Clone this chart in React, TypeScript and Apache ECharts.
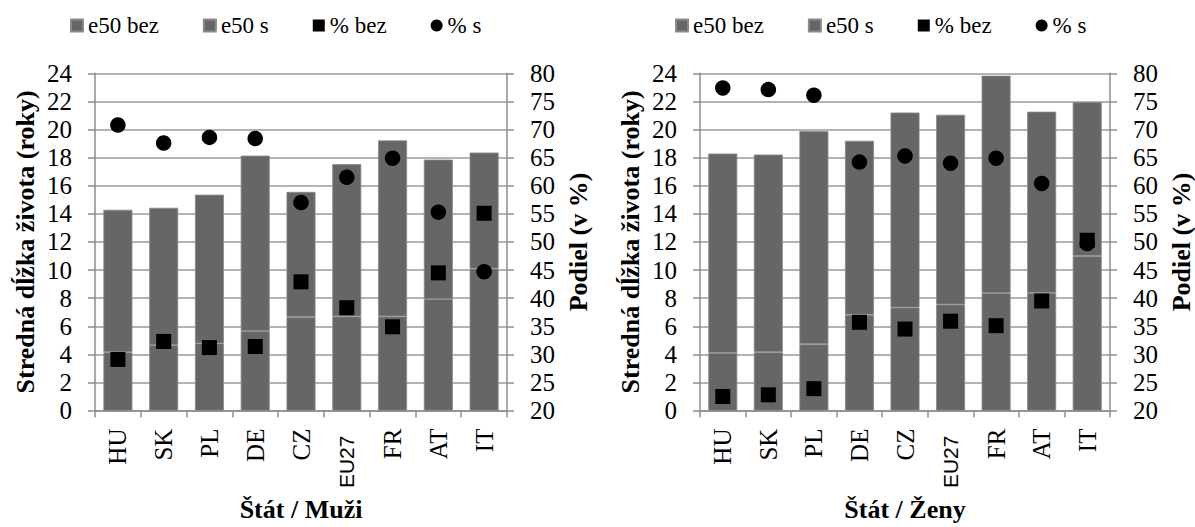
import React, { useEffect, useRef } from "react";
import * as echarts from "echarts";

const categories = ["HU", "SK", "PL", "DE", "CZ", "EU27", "FR", "AT", "IT"];
const leftTicks = [0, 24, 2];
const rightTicks = [20, 80, 5];

const menBez = [4.15, 4.65, 4.78, 5.65, 6.66, 6.7, 6.7, 7.93, 10.1];
const menS = [10.14, 9.78, 10.58, 12.49, 8.9, 10.83, 12.52, 9.93, 8.26];
const menPctBez = [29.1, 32.3, 31.2, 31.4, 42.9, 38.3, 34.9, 44.5, 55.1];
const menPctS = [70.8, 67.6, 68.6, 68.4, 57.0, 61.5, 64.9, 55.3, 44.7];

const womenBez = [4.1, 4.15, 4.72, 6.82, 7.33, 7.55, 8.36, 8.38, 11.0];
const womenS = [14.19, 14.07, 15.16, 12.38, 13.88, 13.5, 15.47, 12.89, 10.95];
const womenPctBez = [22.5, 22.8, 23.9, 35.7, 34.5, 35.9, 35.1, 39.5, 50.3];
const womenPctS = [77.4, 77.1, 76.1, 64.2, 65.3, 64.0, 64.9, 60.4, 49.7];

const panelTitles = ["Štát / Muži", "Štát / Ženy"];
const yTitle = "Stredná dĺžka života (roky)";
const y2Title = "Podiel (v %)";
const seriesNames = ["e50 bez", "e50 s", "% bez", "% s"];

const FONT = "Liberation Serif";
const SANS = "Liberation Sans";
const GRAY = "#666666";
const LINE = "#8c8c8c";

export default function App() {
  const ref = useRef<HTMLDivElement>(null);
  useEffect(() => {
    document.body.style.margin = "0";
    const chart = echarts.init(ref.current!, null, { renderer: "svg" });
    const panels = [
      { bez: menBez, s: menS, pb: menPctBez, ps: menPctS, left: 95 },
      { bez: womenBez, s: womenS, pb: womenPctBez, ps: womenPctS, left: 700 },
    ];
    const grid: any[] = [];
    const xAxis: any[] = [];
    const yAxis: any[] = [];
    const series: any[] = [];
    const legend: any[] = [];
    panels.forEach((p, i) => {
      grid.push({ left: p.left, top: 73.3, width: 412, height: 354.2 });
      legend.push({
        left: p.left - 30,
        top: 9,
        itemWidth: 12,
        itemHeight: 12,
        itemGap: 44,
        textStyle: { fontFamily: FONT, fontSize: 23, color: "#000" },
        data: [
          { name: "e50 bez", icon: "rect" },
          { name: "e50 s", icon: "rect" },
          { name: "% bez", icon: "rect" },
          { name: "% s", icon: "circle" },
        ],
      });
      xAxis.push({
        type: "category",
        gridIndex: i,
        data: categories,
        name: panelTitles[i],
        nameLocation: "middle",
        nameGap: 72,
        nameTextStyle: { fontFamily: FONT, fontSize: 26, fontWeight: "bold", color: "#000" },
        axisLine: { lineStyle: { color: LINE, width: 1.5 } },
        axisTick: { show: true, length: 7, lineStyle: { color: LINE, width: 1.5 } },
        axisLabel: {
          rotate: 90,
          margin: 18,
          fontFamily: FONT,
          fontSize: 25,
          color: "#000",
          interval: 0,
          formatter: (v: string) => (v === "EU27" ? "{eu|EU27}" : v),
          rich: {
            eu: { fontFamily: SANS, fontSize: 21, color: "#000", padding: [0, 7, 0, 0] },
          },
        },
      });
      yAxis.push({
        type: "value",
        gridIndex: i,
        min: leftTicks[0],
        max: leftTicks[1],
        interval: leftTicks[2],
        position: "left",
        name: yTitle,
        nameLocation: "middle",
        nameRotate: 90,
        nameGap: 57,
        nameTextStyle: { fontFamily: FONT, fontSize: 26, fontWeight: "bold", color: "#000" },
        axisLine: { show: true, lineStyle: { color: LINE, width: 1.5 } },
        axisTick: { show: true, length: 7, lineStyle: { color: LINE, width: 1.5 } },
        axisLabel: { margin: 23, fontFamily: FONT, fontSize: 25, color: "#000" },
        splitLine: { show: true, lineStyle: { color: "#9a9a9a", width: 1.5 } },
      });
      yAxis.push({
        type: "value",
        gridIndex: i,
        min: rightTicks[0],
        max: rightTicks[1],
        interval: rightTicks[2],
        position: "right",
        name: y2Title,
        nameLocation: "middle",
        nameRotate: 90,
        nameGap: 58,
        nameTextStyle: { fontFamily: FONT, fontSize: 26, fontWeight: "bold", color: "#000" },
        axisLine: { show: true, lineStyle: { color: LINE, width: 1.5 } },
        axisTick: { show: true, length: 7, lineStyle: { color: LINE, width: 1.5 } },
        axisLabel: { margin: 23, fontFamily: FONT, fontSize: 25, color: "#000" },
        splitLine: { show: false },
      });
      const stack = "st" + i;
      series.push({
        name: seriesNames[0],
        type: "bar",
        xAxisIndex: i,
        yAxisIndex: i * 2,
        stack,
        barWidth: 29,
        data: p.bez,
        itemStyle: { color: GRAY, borderColor: "#8a8a8a", borderWidth: 0.8 },
      });
      series.push({
        name: seriesNames[1],
        type: "bar",
        xAxisIndex: i,
        yAxisIndex: i * 2,
        stack,
        barWidth: 29,
        data: p.s,
        itemStyle: { color: GRAY, borderColor: "#8a8a8a", borderWidth: 0.8 },
      });
      series.push({
        name: seriesNames[2],
        type: "scatter",
        xAxisIndex: i,
        yAxisIndex: i * 2 + 1,
        symbol: "rect",
        symbolSize: 15,
        data: p.pb,
        itemStyle: { color: "#000", opacity: 1 },
        z: 3,
      });
      series.push({
        name: seriesNames[3],
        type: "scatter",
        xAxisIndex: i,
        yAxisIndex: i * 2 + 1,
        symbol: "circle",
        symbolSize: 15.5,
        data: p.ps,
        itemStyle: { color: "#000", opacity: 1 },
        z: 4,
      });
    });
    chart.setOption({
      animation: false,
      backgroundColor: "#fff",
      textStyle: { fontFamily: FONT },
      legend,
      grid,
      xAxis,
      yAxis,
      series,
    });
    return () => chart.dispose();
  }, []);
  return <div ref={ref} style={{ width: 1195, height: 527 }} />;
}
